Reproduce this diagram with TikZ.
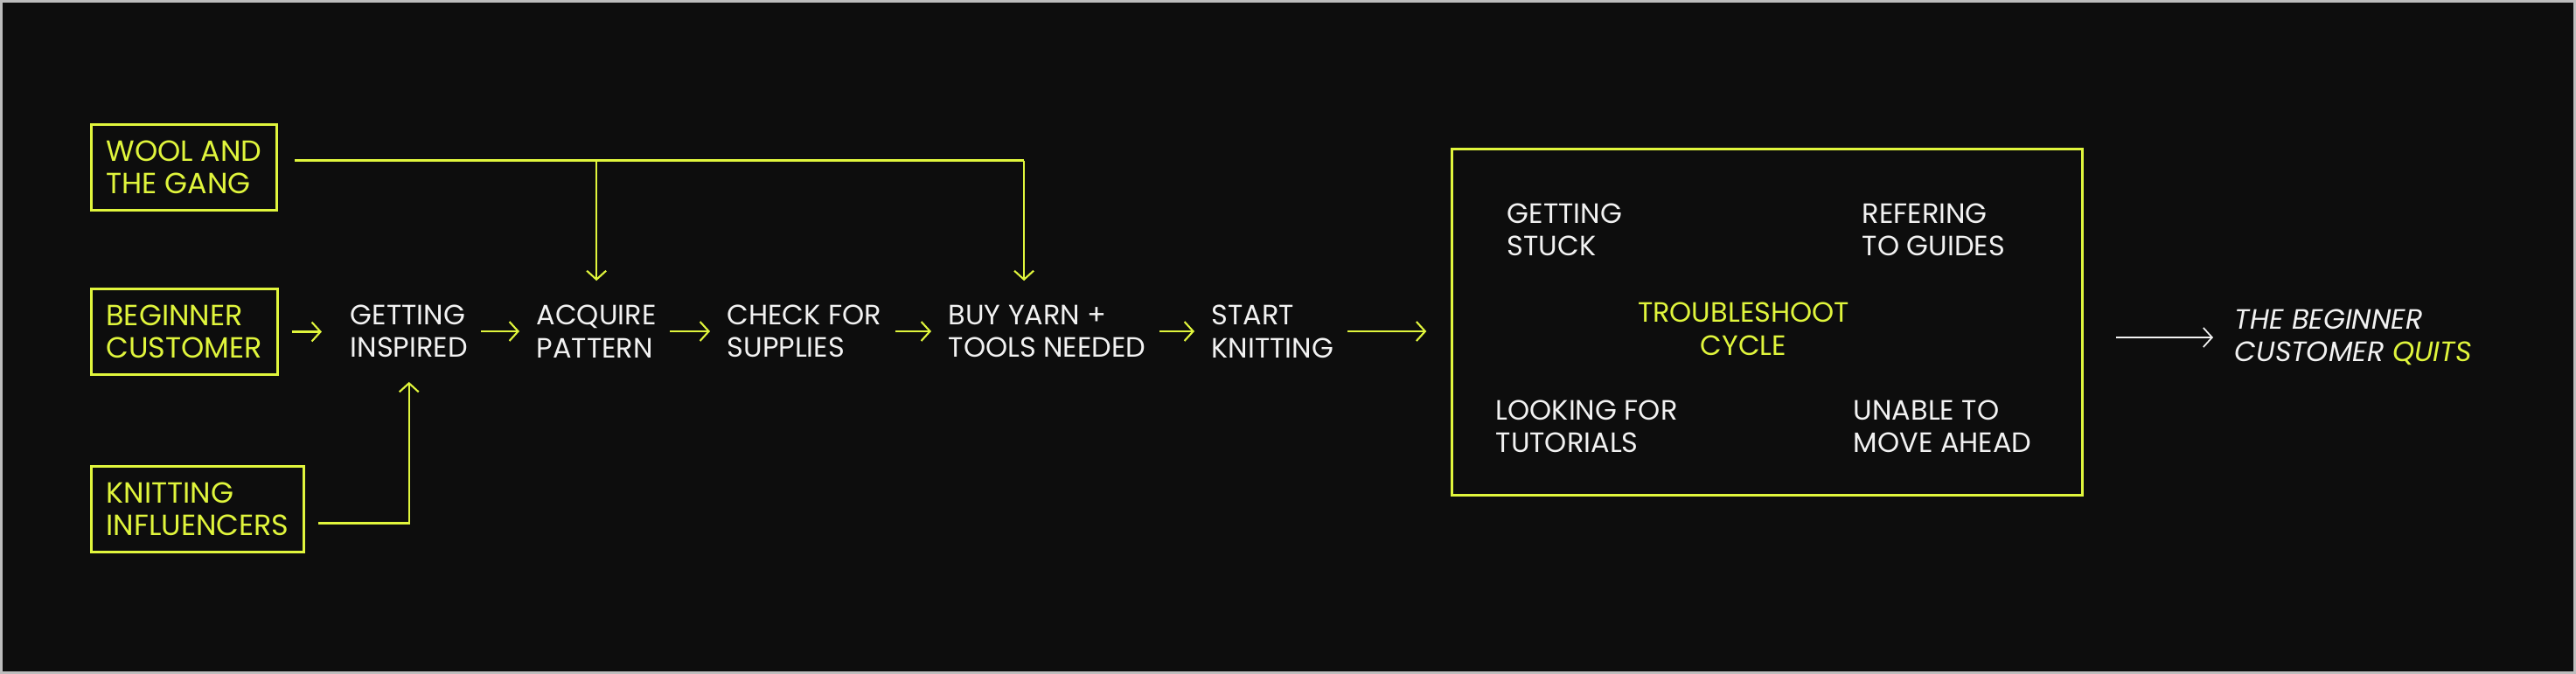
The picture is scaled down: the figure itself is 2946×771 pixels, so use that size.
\documentclass[tikz,border=0pt]{standalone}
\usepackage{fontspec}
\setmainfont{Poppins}
\usetikzlibrary{arrows.meta,calc}

\definecolor{neon}{HTML}{E0F53C}
\definecolor{fundo}{HTML}{0D0D0D}
\definecolor{moldura}{HTML}{BDBDBD}
\definecolor{branco}{HTML}{F2F2F2}
\newcommand\letra{\fontsize{9.1}{10.7}\selectfont}

\tikzset{
    caixa/.style={draw=neon, line width=0.85pt, text=neon, align=left, inner xsep=0.17cm, minimum height=0.98cm,
                  font=\fontsize{9.5}{10.7}\selectfont},
    passo/.style={text=branco, align=left, inner sep=0pt},
    seta/.style={draw=neon, line width=0.6pt, -{Straight Barb[length=0.1cm,width=0.22cm]}, shorten <=0.15cm, shorten >=0.19cm},
}

\begin{document}
\begin{tikzpicture}[x=0.01cm, y=-0.01cm, font=\letra]
        % fundo e moldura
        \fill[fundo] (0,0) rectangle (2946,771);
        \draw[moldura, line width=0.85pt] (1.5,1.5) rectangle (2944.5,769.5);
        % caixas de origem
        \node[caixa, anchor=north west] (wool) at (103,141) {WOOL AND\\THE GANG};
        \node[caixa, anchor=north west] (cliente) at (103,329) {BEGINNER\\CUSTOMER};
        \node[caixa, anchor=north west] (influ) at (103,532) {KNITTING\\INFLUENCERS};
        % passos da jornada
        \foreach \nome/\x/\texto in {insp/400/{GETTING\\INSPIRED}, padrao/613/{ACQUIRE\\PATTERN},
                                     verifica/831/{CHECK FOR\\SUPPLIES}, compra/1084/{BUY YARN +\\TOOLS NEEDED},
                                     inicio/1385/{START\\KNITTING}}{
            \node[passo, anchor=west] (\nome) at (\x,379) {\texto};
        }
        % caixa do ciclo
        \node[draw=neon, line width=0.85pt, minimum width=7.2cm, minimum height=3.95cm] (ciclo) at (2021,368.5) {};
        \node[passo, anchor=west] (preso) at (1723,263) {GETTING\\STUCK};
        \node[passo, anchor=west] (guias) at (2129,263) {REFERING\\TO GUIDES};
        \node[passo, align=center, text=neon] (titulo) at (1994,376) {TROUBLESHOOT\\CYCLE};
        \node[passo, anchor=west] (tutoriais) at (1710,488) {LOOKING FOR\\TUTORIALS};
        \node[passo, anchor=west] (parado) at (2119,488) {UNABLE TO\\MOVE AHEAD};
        % desfecho
        \node[passo, anchor=west, font=\letra\itshape] (desiste) at (2555,386) {THE BEGINNER\\CUSTOMER \textcolor{neon}{QUITS}};
        % setas entre os passos
        \draw[seta, shorten >=0.32cm] (cliente.east) -- (cliente.east -| insp.west);
        \foreach \a/\b in {insp/padrao, padrao/verifica, verifica/compra, compra/inicio}{
            \draw[seta] (\a.east) -- (\b.west);
        }
        \draw[seta, shorten >=0.28cm] (inicio.east) -- (inicio.east -| ciclo.west);
        \draw[seta, draw=branco, line width=0.5pt, shorten <=0.37cm, shorten >=0.24cm] (desiste.west -| ciclo.east) -- (desiste.west);
        % ligacoes vindas de cima e de baixo
        \coordinate (topo) at ([xshift=0.19cm, yshift=0.08cm]wool.east);
        \coordinate (desce) at ([xshift=0.87cm]compra.north west);
        \draw[neon, line width=0.6pt] (topo) -- (topo -| desce);
        \draw[seta, shorten <=0pt, shorten >=0.27cm] (topo -| padrao.north) -- (padrao.north);
        \draw[seta, shorten <=0pt, shorten >=0.27cm] (topo -| desce) -- (desce);
        \draw[seta, shorten >=0.27cm] ([yshift=-0.16cm]influ.east) -| (insp.south);
    \end{tikzpicture}
\end{document}
